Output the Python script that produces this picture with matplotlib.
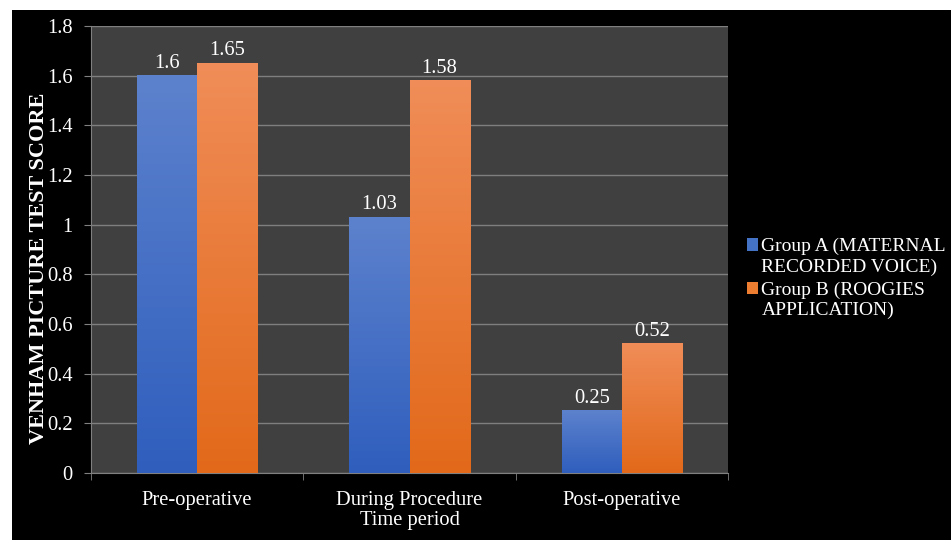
import numpy as np
import matplotlib
matplotlib.use("Agg")
import matplotlib.pyplot as plt
from matplotlib.patches import Rectangle
from matplotlib.colors import LinearSegmentedColormap
from matplotlib.legend_handler import HandlerPatch

# Data
categories = ["Pre-operative", "During Procedure", "Post-operative"]
group_a = [1.6, 1.03, 0.25]
group_b = [1.65, 1.58, 0.52]
series_labels = ["Group A (MATERNAL\nRECORDED VOICE)", "Group B (ROOGIES\nAPPLICATION)"]
y_ticks = [0, 0.2, 0.4, 0.6, 0.8, 1, 1.2, 1.4, 1.6, 1.8]

plt.rcParams["font.family"] = ["Liberation Serif", "DejaVu Serif"]
FS = 14.8
LEG_FS = 14

fig = plt.figure(figsize=(9.51, 5.40), dpi=100)
fig.patch.set_facecolor("white")
# dark panel behind the chart
fig.patches.append(Rectangle((12 / 951, 0), 1, 1 - 10 / 540,
                             transform=fig.transFigure, facecolor="black",
                             edgecolor="none", zorder=-10))

ax = fig.add_axes([91 / 951, 1 - 473 / 540, (728 - 91) / 951, (473 - 26) / 540])
ax.set_facecolor("#404040")

x = np.arange(len(categories))
w = 0.283
blue_cmap = LinearSegmentedColormap.from_list("b", ["#2f5ebd", "#5d82cd"])
orange_cmap = LinearSegmentedColormap.from_list("o", ["#e2691a", "#f08d58"])

bars_a = ax.bar(x - w / 2, group_a, w, color="#4472c4", label=series_labels[0], zorder=2)
bars_b = ax.bar(x + w / 2, group_b, w, color="#ed7d31", label=series_labels[1], zorder=2)

grad = np.linspace(0, 1, 256).reshape(-1, 1)
for bars, cmap in ((bars_a, blue_cmap), (bars_b, orange_cmap)):
    for b in bars:
        x0, bw, h = b.get_x(), b.get_width(), b.get_height()
        ax.imshow(grad, extent=[x0, x0 + bw, 0, h], origin="lower",
                  aspect="auto", cmap=cmap, zorder=3)
        ax.text(x0 + bw / 2, h + 0.012, f"{h:g}", ha="center", va="bottom",
                color="white", fontsize=FS, zorder=4)

ax.set_xlim(-0.5, len(categories) - 0.5)
ax.set_ylim(0, 1.8)
ax.set_yticks(y_ticks)
ax.set_yticklabels([f"{t:g}" for t in y_ticks])
ax.set_xticks(x)
ax.set_xticklabels(categories)
ax.set_xticks(np.arange(-0.5, len(categories)), minor=True)
ax.tick_params(axis="x", which="major", length=0, pad=13, colors="white", labelsize=FS)
ax.tick_params(axis="x", which="minor", length=5, color="#808080", direction="out")
ax.tick_params(axis="y", length=5, color="#808080", colors="white", labelsize=FS, pad=8)

ax.grid(axis="y", color="#7f7f7f", linewidth=1, zorder=1)
ax.set_axisbelow(True)
for s in ("top", "right"):
    ax.spines[s].set_visible(False)
for s in ("left", "bottom"):
    ax.spines[s].set_color("#808080")

ax.set_xlabel("Time period", color="white", fontsize=FS, labelpad=1)
ax.set_ylabel("VENHAM PICTURE TEST SCORE", color="white", fontsize=16,
              fontweight="bold")
ax.yaxis.set_label_coords(-0.066, 0.459)


def top_square(legend, orig_handle, xdescent, ydescent, width, height, fontsize):
    # square key aligned with the first line of a two-line label
    return Rectangle((-xdescent, -ydescent + 0.62 * fontsize), width, height)


handler = HandlerPatch(patch_func=top_square)
leg = fig.legend(handles=[bars_a[0], bars_b[0]], labels=series_labels,
                 loc="upper left", bbox_to_anchor=(739 / 951, 1 - 230 / 540),
                 frameon=False, fontsize=LEG_FS, handlelength=0.6, handleheight=0.6,
                 handletextpad=0.15, labelspacing=0.3, borderaxespad=0,
                 handler_map={Rectangle: handler})
for t in leg.get_texts():
    t.set_color("white")
    t.set_linespacing(1.25)

fig.savefig("out.png", dpi=100, facecolor=fig.get_facecolor())
